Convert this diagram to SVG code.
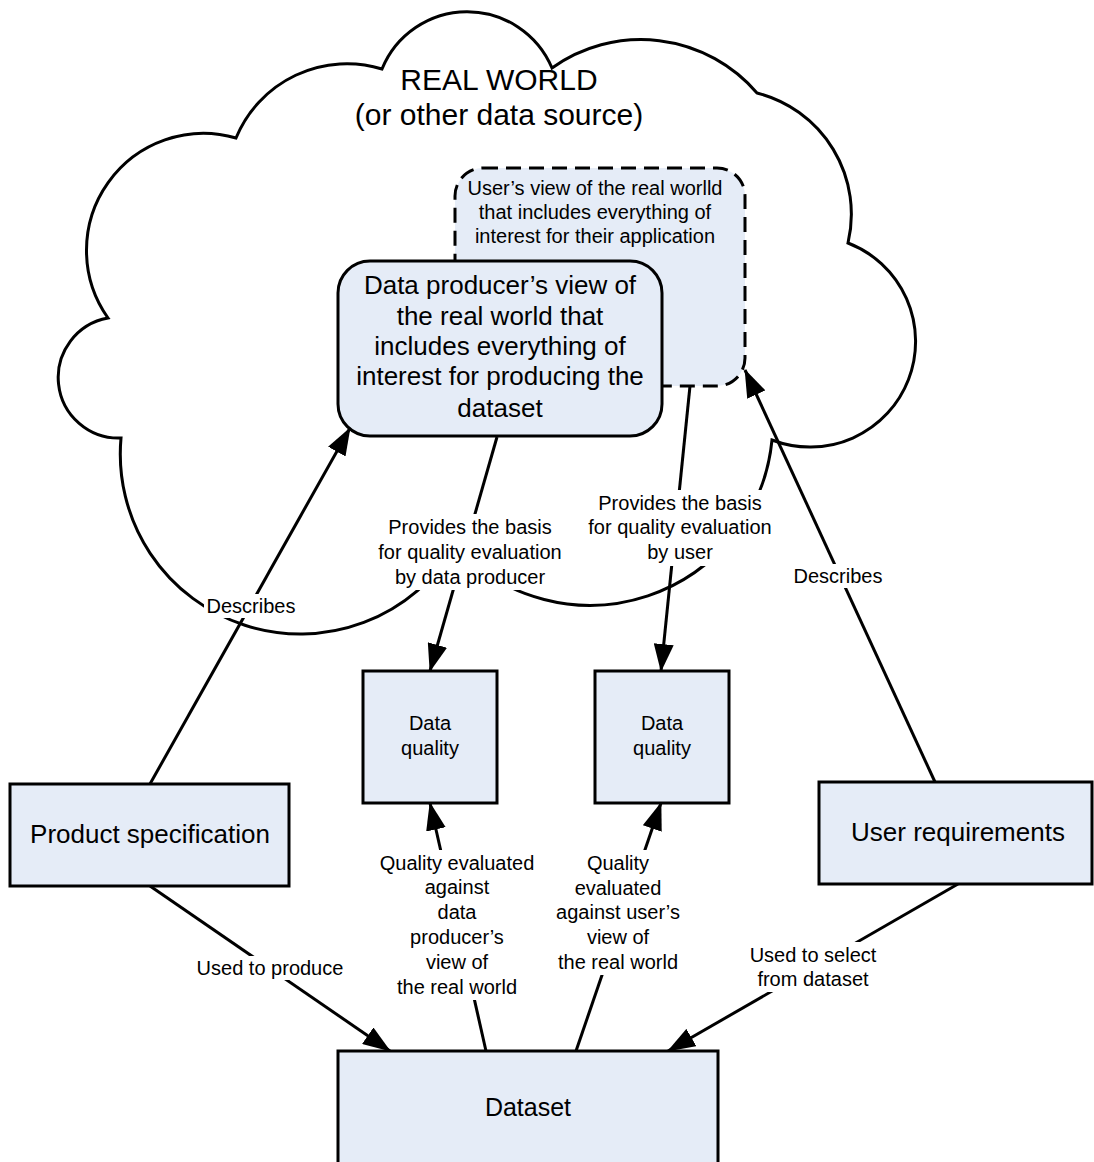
<svg xmlns="http://www.w3.org/2000/svg" width="1094" height="1162" viewBox="0 0 1094 1162">
<defs>
<style>
.box{fill:#E5ECF7;stroke:#000;stroke-width:3}
.cloud{fill:#fff;stroke:#000;stroke-width:3;stroke-linejoin:miter}
.dash{fill:#E5ECF7;stroke:#000;stroke-width:3;stroke-dasharray:15 8}
.con{stroke:#000;stroke-width:3;fill:none}
.bg{fill:#fff}
text{font-family:"Liberation Sans",Arial,sans-serif;fill:#000;text-anchor:middle}
.lbl{font-size:20px}
</style>
<marker id="ah" markerUnits="userSpaceOnUse" markerWidth="28" markerHeight="20" refX="27" refY="10" orient="auto" viewBox="0 0 28 20">
<path d="M0,0 L28,10 L0,20 z" fill="#000"/>
</marker>
</defs>
<rect width="1094" height="1162" fill="#fff"/>

<g id="cloud">
<path class="cloud" d="M382,69 A92,92 0 0 1 552,68 A153,153 0 0 1 757,93 A125,125 0 0 1 848,243 A100,100 0 0 1 772,440 A183,183 0 0 1 455,546 A180,180 0 0 1 121,438 A60.5,60.5 0 0 1 108,318 A117,117 0 0 1 236,138 A120,120 0 0 1 382,69 Z"/>
<text x="499" y="90" font-size="30">REAL WORLD</text>
<text x="499" y="125" font-size="30">(or other data source)</text>
</g>

<g id="user-view">
<rect class="dash" x="455" y="168" width="290" height="218" rx="28"/>
<text class="lbl" x="595" y="195">User’s view of the real worlld</text>
<text class="lbl" x="595" y="219">that includes everything of</text>
<text class="lbl" x="595" y="243">interest for their application</text>
</g>

<g id="producer-view">
<rect class="box" x="338" y="261" width="324" height="175" rx="32"/>
<text x="500" y="294" font-size="26">Data producer’s view of</text>
<text x="500" y="325" font-size="26">the real world that</text>
<text x="500" y="355" font-size="26">includes everything of</text>
<text x="500" y="385" font-size="26">interest for producing the</text>
<text x="500" y="417" font-size="26">dataset</text>
</g>

<g id="connectors">
<line class="con" x1="150" y1="784" x2="350" y2="428" marker-end="url(#ah)"/>
<line class="con" x1="935" y1="782" x2="745" y2="370" marker-end="url(#ah)"/>
<line class="con" x1="497" y1="437" x2="430" y2="671" marker-end="url(#ah)"/>
<line class="con" x1="690" y1="386" x2="661" y2="671" marker-end="url(#ah)"/>
<line class="con" x1="486" y1="1051" x2="430" y2="803" marker-end="url(#ah)"/>
<line class="con" x1="576" y1="1051" x2="661" y2="803" marker-end="url(#ah)"/>
<line class="con" x1="150" y1="886" x2="390" y2="1051" marker-end="url(#ah)"/>
<line class="con" x1="958" y1="884" x2="668" y2="1051" marker-end="url(#ah)"/>

<rect class="bg" x="204" y="594" width="94" height="24"/>
<text class="lbl" x="251" y="613">Describes</text>
<rect class="bg" x="791" y="564" width="94" height="24"/>
<text class="lbl" x="838" y="583">Describes</text>

<rect class="bg" x="372" y="514" width="196" height="76"/>
<text class="lbl" x="470" y="534">Provides the basis</text>
<text class="lbl" x="470" y="559">for quality evaluation</text>
<text class="lbl" x="470" y="584">by data producer</text>

<rect class="bg" x="582" y="490" width="196" height="76"/>
<text class="lbl" x="680" y="510">Provides the basis</text>
<text class="lbl" x="680" y="534">for quality evaluation</text>
<text class="lbl" x="680" y="559">by user</text>

<rect class="bg" x="372" y="850" width="170" height="150"/>
<text class="lbl" x="457" y="870">Quality evaluated</text>
<text class="lbl" x="457" y="894">against</text>
<text class="lbl" x="457" y="919">data</text>
<text class="lbl" x="457" y="944">producer’s</text>
<text class="lbl" x="457" y="969">view of</text>
<text class="lbl" x="457" y="994">the real world</text>

<rect class="bg" x="552" y="850" width="132" height="125"/>
<text class="lbl" x="618" y="870">Quality</text>
<text class="lbl" x="618" y="895">evaluated</text>
<text class="lbl" x="618" y="919">against user’s</text>
<text class="lbl" x="618" y="944">view of</text>
<text class="lbl" x="618" y="969">the real world</text>

<rect class="bg" x="193" y="956" width="154" height="24"/>
<text class="lbl" x="270" y="975">Used to produce</text>

<rect class="bg" x="748" y="942" width="130" height="50"/>
<text class="lbl" x="813" y="962">Used to select</text>
<text class="lbl" x="813" y="986">from dataset</text>
</g>

<g id="data-quality-1">
<rect class="box" x="363" y="671" width="134" height="132"/>
<text class="lbl" x="430" y="730">Data</text>
<text class="lbl" x="430" y="755">quality</text>
</g>

<g id="data-quality-2">
<rect class="box" x="595" y="671" width="134" height="132"/>
<text class="lbl" x="662" y="730">Data</text>
<text class="lbl" x="662" y="755">quality</text>
</g>

<g id="product-specification">
<rect class="box" x="10" y="784" width="279" height="102"/>
<text x="150" y="843" font-size="26">Product specification</text>
</g>

<g id="user-requirements">
<rect class="box" x="819" y="782" width="273" height="102"/>
<text x="958" y="841" font-size="26">User requirements</text>
</g>

<g id="dataset">
<rect class="box" x="338" y="1051" width="380" height="130"/>
<text x="528" y="1116" font-size="25">Dataset</text>
</g>
</svg>
